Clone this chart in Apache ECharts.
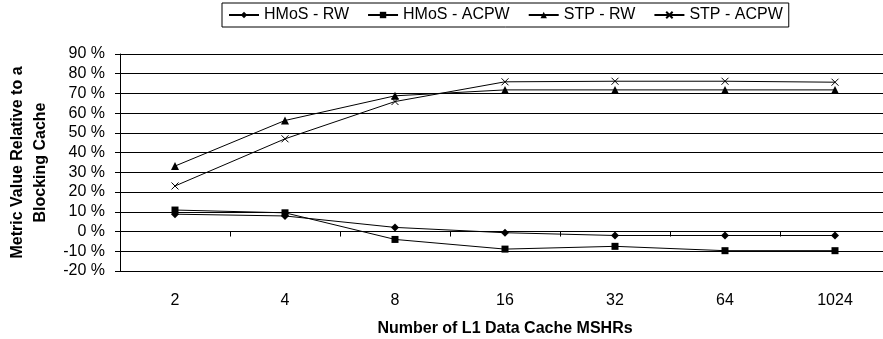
<!doctype html>
<html>
<head>
<meta charset="utf-8">
<script src="https://cdn.jsdelivr.net/npm/echarts@6/dist/echarts.min.js"></script>
<style>
  html, body { margin: 0; padding: 0; background: #fff; }
  #chart { width: 883px; height: 339px; }
</style>
</head>
<body>
<div id="chart"></div>
<script>
// categories: number of L1 data cache MSHRs
var mshrs = ['2', '4', '8', '16', '32', '64', '1024'];

// metric value relative to a blocking cache (%)
var hmosRW   = [8.8, 7.9, 2.1, -0.6, -2.0, -2.0, -2.0];
var hmosACPW = [10.9, 9.5, -4.0, -8.9, -7.5, -9.7, -9.7];
var stpRW    = [33.2, 56.3, 68.8, 71.8, 71.8, 71.8, 71.8];
var stpACPW  = [23.1, 47.0, 65.9, 75.9, 76.2, 76.2, 75.7];

var seriesNames = ['HMoS - RW', 'HMoS - ACPW', 'STP - RW', 'STP - ACPW'];

var font = 'Arial, "Liberation Sans", sans-serif';
var crossPath = 'path://M0,0L8,8M8,0L0,8';

var myChart = echarts.init(document.getElementById('chart'));

function mkSeries(name, data, symbol, size) {
    return {
        name: name,
        type: 'line',
        xAxisIndex: 0,
        data: data,
        symbol: symbol,
        symbolSize: size,
        showAllSymbol: true,
        animation: false,
        lineStyle: { color: '#000', width: 1 },
        itemStyle: { color: '#000', borderColor: '#000', borderWidth: symbol === crossPath ? 1 : 0 }
    };
}

var option = {
    backgroundColor: '#fff',
    textStyle: { fontFamily: font, color: '#000' },
    legend: {
        data: seriesNames,
        left: 222,
        top: 3,
        padding: [4, 6],
        itemGap: 18,
        itemWidth: 30,
        itemHeight: 8,
        borderColor: '#000',
        borderWidth: 1,
        textStyle: { fontFamily: font, fontSize: 16, color: '#000' }
    },
    grid: { left: 120, right: -7, top: 54, bottom: 68, containLabel: false, outerBoundsMode: 'none' },
    xAxis: [{
        type: 'category',
        data: mshrs,
        position: 'bottom',
        axisLine: { show: false, onZero: false },
        axisTick: { show: false },
        axisLabel: { fontFamily: font, fontSize: 16, color: '#000', margin: 22 },
        name: 'Number of L1 Data Cache MSHRs',
        nameLocation: 'middle',
        nameGap: 50,
        nameTextStyle: { fontFamily: font, fontSize: 16, fontWeight: 'bold', color: '#000' }
    }, {
        type: 'category',
        data: mshrs,
        position: 'bottom',
        axisLine: { show: true, onZero: true, lineStyle: { color: '#000', width: 1 } },
        axisTick: { show: true, length: 5, lineStyle: { color: '#000' } },
        axisLabel: { show: false }
    }],
    yAxis: {
        type: 'value',
        min: -20,
        max: 90,
        interval: 10,
        axisLine: { show: true, lineStyle: { color: '#000', width: 1 } },
        axisTick: { show: true, length: 5, lineStyle: { color: '#000' } },
        axisLabel: {
            fontFamily: font, fontSize: 16, color: '#000', margin: 15,
            formatter: function (v) { return v + ' %'; }
        },
        splitLine: { show: true, lineStyle: { color: '#000', width: 1 } },
        name: 'Metric Value Relative to a\nBlocking Cache',
        nameLocation: 'middle',
        nameRotate: 90,
        nameGap: 68,
        nameTextStyle: { fontFamily: font, fontSize: 16, fontWeight: 'bold', color: '#000', lineHeight: 23, align: 'center' }
    },
    series: [
        mkSeries(seriesNames[0], hmosRW, 'diamond', 8),
        mkSeries(seriesNames[1], hmosACPW, 'rect', 7),
        mkSeries(seriesNames[2], stpRW, 'triangle', 8),
        mkSeries(seriesNames[3], stpACPW, crossPath, 7)
    ]
};

myChart.setOption(option);
</script>
</body>
</html>
